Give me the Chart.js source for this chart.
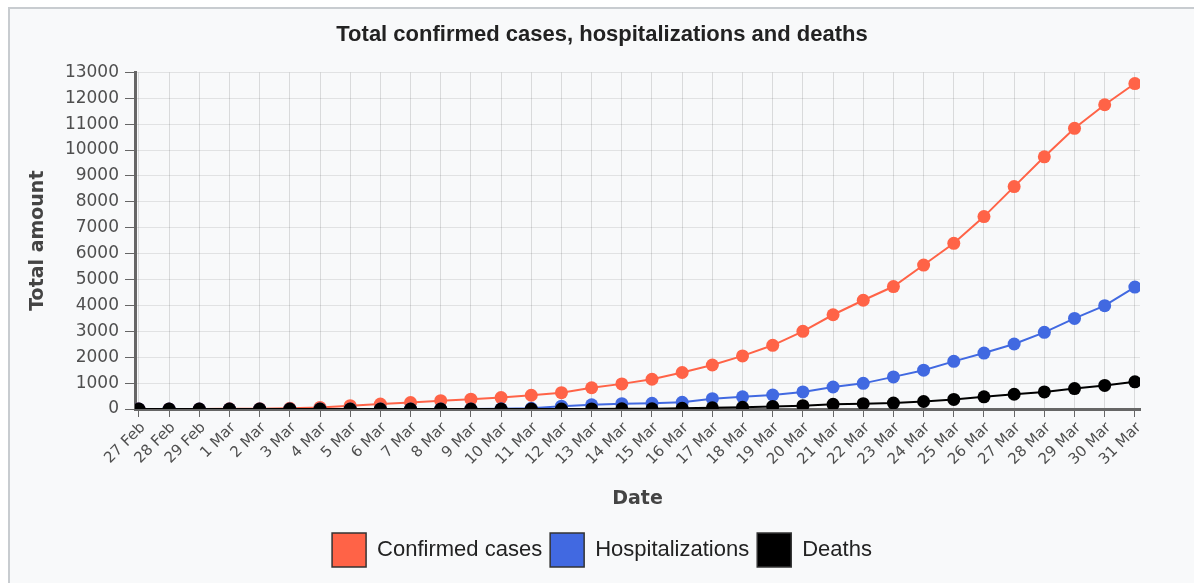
<!DOCTYPE html>
<html>
<head>
<meta charset="utf-8">
<script src="https://cdn.jsdelivr.net/npm/chart.js@4.4.1/dist/chart.umd.min.js"></script>
<style>
    html, body { margin: 0; padding: 0; background: #fff; }
    #wrap {
        position: absolute; left: 8px; top: 7px;
        width: 1186px; height: 576px;
        background: #f8f9fa;
        border-left: 2px solid #c8ccd0;
        border-top: 2px solid #c8ccd0;
    }
    canvas { display: block; }
</style>
</head>
<body>
<div id="wrap"><canvas id="casesChart" width="1184" height="574"></canvas></div>
<script>
// dates on the x axis
const dates = [
    '27 Feb', '28 Feb', '29 Feb',
    '1 Mar', '2 Mar', '3 Mar', '4 Mar', '5 Mar', '6 Mar', '7 Mar', '8 Mar', '9 Mar', '10 Mar',
    '11 Mar', '12 Mar', '13 Mar', '14 Mar', '15 Mar', '16 Mar', '17 Mar', '18 Mar', '19 Mar', '20 Mar',
    '21 Mar', '22 Mar', '23 Mar', '24 Mar', '25 Mar', '26 Mar', '27 Mar', '28 Mar', '29 Mar', '30 Mar', '31 Mar'
];

const confirmed = [
    1, 2, 3, 6, 12, 30, 60, 130, 190, 250, 320, 380, 440,
    530, 630, 820, 970, 1150, 1410, 1700, 2050, 2460, 3000,
    3640, 4200, 4730, 5560, 6400, 7430, 8590, 9740, 10840, 11750, 12570
];

const hospitalized = [
    0, 0, 0, 0, 0, 0, 0, 0, 0, 0, 0, 0, 5,
    30, 110, 160, 205, 220, 260, 400, 470, 540, 660,
    850, 990, 1240, 1500, 1840, 2160, 2510, 2960, 3500, 3990, 4710
];

const deaths = [
    0, 0, 0, 0, 0, 0, 0, 0, 0, 0, 0, 0, 0,
    0, 0, 2, 5, 10, 25, 45, 65, 100, 130,
    180, 205, 230, 290, 370, 470, 570, 660, 790, 910, 1050
];

const yMax = 13000;
const yStep = 1000;

const series = [
    { name: 'Confirmed cases', values: confirmed, color: '#ff6347' },
    { name: 'Hospitalizations', values: hospitalized, color: '#4169e1' },
    { name: 'Deaths', values: deaths, color: '#000000' }
];

const yTickFont = { family: 'DejaVu Sans', size: 17 };
const xTickFont = { family: 'DejaVu Sans', size: 15 };
const axisTitleFont = { family: 'DejaVu Sans', size: 19, weight: 'bold' };

// title and legend are centred on the whole canvas, not just the padded area
const centerBlocks = {
    id: 'centerBlocks',
    beforeDraw(chart) {
        [chart.titleBlock, chart.legend].forEach(b => {
            if (!b) return;
            b.left = 0;
            b.right = chart.width;
        });
    }
};

new Chart(document.getElementById('casesChart'), {
    type: 'line',
    data: {
        datasets: series.map((s, i) => ({
            label: s.name,
            data: s.values.map((v, j) => ({ x: j, y: v })),
            order: series.length - i,   // later series drawn on top
            borderColor: s.color,
            backgroundColor: s.color,
            borderWidth: 2,
            pointRadius: 6.5,
            pointBorderWidth: 0,
            pointBackgroundColor: s.color,
            tension: 0
        }))
    },
    plugins: [centerBlocks],
    options: {
        responsive: false,
        animation: false,
        devicePixelRatio: 1,
        layout: { padding: { left: 13, right: 54, top: 0, bottom: 6 } },
        plugins: {
            tooltip: { enabled: false },
            title: {
                display: true,
                text: 'Total confirmed cases, hospitalizations and deaths',
                color: '#222',
                font: { family: 'Liberation Sans', size: 22, weight: 'bold' },
                padding: { top: 13, bottom: 24 }
            },
            legend: {
                position: 'bottom',
                labels: {
                    boxWidth: 34,
                    boxHeight: 34,
                    padding: 8,
                    color: '#222',
                    font: { family: 'Liberation Sans', size: 22 },
                    sort: (a, b) => a.datasetIndex - b.datasetIndex,
                    generateLabels: chart => Chart.defaults.plugins.legend.labels.generateLabels(chart)
                        .map(it => ({ ...it, strokeStyle: '#333', lineWidth: 1.5 }))
                }
            }
        },
        scales: {
            x: {
                type: 'linear',
                min: -0.13,
                max: 33.17,
                afterFit: s => { s.height = 116; },
                ticks: {
                    stepSize: 1,
                    includeBounds: false,
                    autoSkip: false,
                    maxRotation: 45,
                    minRotation: 45,
                    labelOffset: 4,
                    color: '#4f4f4f',
                    font: xTickFont,
                    padding: 2,
                    callback: v => dates[v]
                },
                grid: { color: 'rgba(0,0,0,0.12)', tickColor: '#666', tickLength: 8 },
                border: { color: '#666', width: 3 },
                title: { display: true, text: 'Date', color: '#444', font: axisTitleFont, padding: { top: 4, bottom: 15 } }
            },
            y: {
                min: 0,
                max: yMax,
                afterFit: s => { s.width = 112; },
                ticks: { stepSize: yStep, color: '#4f4f4f', font: yTickFont, padding: 6, callback: v => String(v) },
                grid: { color: 'rgba(0,0,0,0.09)', tickColor: '#666', tickLength: 10 },
                border: { color: '#666', width: 3 },
                title: { display: true, text: 'Total amount', color: '#444', font: axisTitleFont }
            }
        }
    }
});
</script>
</body>
</html>
